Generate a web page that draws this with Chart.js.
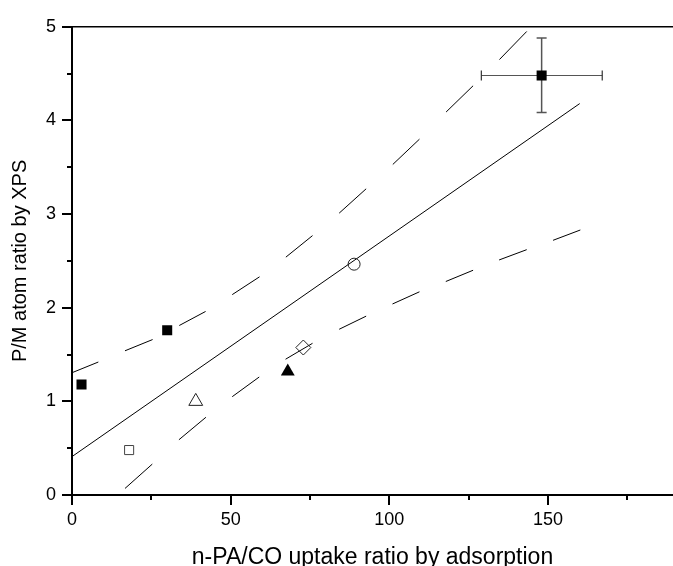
<!DOCTYPE html>
<html>
<head>
<meta charset="utf-8">
<script src="https://cdn.jsdelivr.net/npm/chart.js@4.4.1/dist/chart.umd.min.js"></script>
<style>
  html, body { margin: 0; padding: 0; background: #fff; }
  #wrap { width: 673px; height: 566px; }
</style>
</head>
<body>
<div id="wrap"><canvas id="c" width="673" height="566"></canvas></div>
<script>
// --- datos ---
// muestras (x = n-PA/CO uptake, y = P/M por XPS)
const solidSqX = [3, 30, 148];
const solidSqY = [1.18, 1.76, 4.48];
const openSqX = [18];
const openSqY = [0.48];
const openTriX = [39];
const openTriY = [1.0];
const solidTriX = [68];
const solidTriY = [1.32];
const openDiaX = [72.9];
const openDiaY = [1.575];
const openCircX = [88.9];
const openCircY = [2.465];

// barras de error del punto (148, 4.48)
const errXRange = [129.0, 167.1];
const errYRange = [4.085, 4.88];

// ajuste lineal
const fitX = [0, 160];
const fitY = [0.41, 4.18];

// bandas de confianza (extremos de cada trazo, alternando trazo / hueco)
const upperX = [0.3, 8.3, 16.7, 25.4, 33.8, 42.1, 50.5, 59.1, 67.4, 75.8, 84.2, 92.7, 101.1, 109.5, 117.9, 126.4, 134.7, 143.3];
const upperY = [1.31, 1.42, 1.54, 1.66, 1.81, 1.96, 2.14, 2.33, 2.54, 2.77, 3.01, 3.27, 3.53, 3.80, 4.09, 4.37, 4.65, 4.95];
const lowerX = [16.7, 25.3, 33.7, 42.2, 50.5, 59.0, 67.3, 75.8, 84.2, 92.7, 101.0, 109.5, 117.8, 126.4, 134.6, 143.3, 151.6, 160.2];
const lowerY = [0.07, 0.33, 0.59, 0.83, 1.05, 1.26, 1.45, 1.62, 1.77, 1.91, 2.04, 2.17, 2.28, 2.40, 2.51, 2.62, 2.72, 2.83];

const xTitle = "n-PA/CO uptake ratio by adsorption";
const yTitle = "P/M atom ratio by XPS";

function pts(xs, ys){ return xs.map((x, i) => ({ x, y: ys[i] })); }

const FONT = "'Liberation Sans', Arial, sans-serif";

// ticks mayores/menores y marco superior
const axisDeco = {
  id: "axisDeco",
  afterDraw(chart){
    const { ctx, chartArea: a, scales: { x, y } } = chart;
    ctx.save();
    ctx.strokeStyle = "#000";
    ctx.lineWidth = 2;
    ctx.beginPath();
    x.ticks.forEach(t => {
      if (t.value % 25 !== 0) return;
      const px = Math.round(x.getPixelForValue(t.value));
      const len = (t.value % 50 === 0) ? 10 : 5;
      ctx.moveTo(px, a.bottom);
      ctx.lineTo(px, a.bottom + len);
    });
    y.ticks.forEach(t => {
      const py = Math.round(y.getPixelForValue(t.value));
      const len = Number.isInteger(t.value) ? 10 : 5;
      ctx.moveTo(a.left, py);
      ctx.lineTo(a.left - len, py);
    });
    ctx.stroke();
    ctx.lineWidth = 1.5;
    ctx.beginPath();
    ctx.moveTo(a.left, a.top);
    ctx.lineTo(a.right, a.top);
    ctx.stroke();
    ctx.restore();
  }
};

const dashSeg = { borderColor: c => (c.p0DataIndex % 2 === 0 ? "#000" : "rgba(0,0,0,0)") };

new Chart(document.getElementById("c").getContext("2d"), {
  type: "scatter",
  data: {
    datasets: [
      { data: pts(solidSqX, solidSqY), pointStyle: "rect", pointRadius: 7.1,
        backgroundColor: "#000", borderColor: "#000", pointBorderWidth: 0 },
      { data: pts(openSqX, openSqY), pointStyle: "rect", pointRadius: 6.4,
        backgroundColor: "rgba(0,0,0,0)", borderColor: "#444", pointBorderWidth: 1 },
      { data: pts(openTriX, openTriY), pointStyle: "triangle", pointRadius: 8,
        backgroundColor: "rgba(0,0,0,0)", borderColor: "#222", pointBorderWidth: 1 },
      { data: pts(solidTriX, solidTriY), pointStyle: "triangle", pointRadius: 8,
        backgroundColor: "#000", borderColor: "#000", pointBorderWidth: 0 },
      { data: pts(openDiaX, openDiaY), pointStyle: "rectRot", pointRadius: 7.5,
        backgroundColor: "rgba(0,0,0,0)", borderColor: "#222", pointBorderWidth: 1 },
      { data: pts(openCircX, openCircY), pointStyle: "circle", pointRadius: 6,
        backgroundColor: "rgba(0,0,0,0)", borderColor: "#222", pointBorderWidth: 1 },
      // barras de error (tapas con pointStyle 'line')
      { data: errXRange.map(x => ({ x, y: solidSqY[2] })), showLine: true,
        borderColor: "#555", borderWidth: 1.2, pointStyle: "line", pointRotation: 90,
        pointRadius: 5, pointBorderColor: "#333", pointBorderWidth: 1.2 },
      { data: errYRange.map(y => ({ x: solidSqX[2], y })), showLine: true,
        borderColor: "#555", borderWidth: 1.5, pointStyle: "line", pointRotation: 0,
        pointRadius: 5, pointBorderColor: "#555", pointBorderWidth: 1.5 },
      // ajuste y bandas
      { data: pts(fitX, fitY), showLine: true, borderColor: "#000", borderWidth: 1, pointRadius: 0 },
      { data: pts(upperX, upperY), showLine: true, borderColor: "#000", borderWidth: 1, pointRadius: 0, segment: dashSeg },
      { data: pts(lowerX, lowerY), showLine: true, borderColor: "#000", borderWidth: 1, pointRadius: 0, segment: dashSeg }
    ]
  },
  options: {
    responsive: false,
    animation: false,
    events: [],
    layout: { autoPadding: false, padding: { top: 21, left: 0, right: 0, bottom: 0 } },
    plugins: { legend: { display: false }, tooltip: { enabled: false } },
    scales: {
      x: {
        type: "linear",
        min: 0,
        max: 189.4,
        afterFit: s => { s.height = 71; s.paddingLeft = 0; s.paddingRight = 0; },
        grid: { display: true, drawOnChartArea: false, drawTicks: false },
        border: { display: true, color: "#000", width: 2 },
        ticks: {
          stepSize: 25,
          includeBounds: false,
          autoSkip: false,
          maxRotation: 0,
          padding: 14,
          color: "#000",
          font: { family: FONT, size: 18 },
          callback: v => (v % 50 === 0 ? String(v) : "")
        },
        title: {
          display: true,
          text: xTitle,
          color: "#000",
          font: { family: FONT, size: 23, lineHeight: 0.7 },
          padding: { top: 0, bottom: 0 }
        }
      },
      y: {
        type: "linear",
        min: 0,
        max: 5,
        afterFit: s => { s.width = 72; },
        grid: { display: true, drawOnChartArea: false, drawTicks: false },
        border: { display: true, color: "#000", width: 2 },
        ticks: {
          stepSize: 0.5,
          autoSkip: false,
          padding: 16,
          color: "#000",
          font: { family: FONT, size: 18 },
          callback: v => (Number.isInteger(v) ? String(v) : "")
        },
        title: {
          display: true,
          text: yTitle,
          color: "#000",
          font: { family: FONT, size: 20 },
          padding: { top: 8, bottom: 0 }
        }
      }
    }
  },
  plugins: [axisDeco]
});
</script>
</body>
</html>
